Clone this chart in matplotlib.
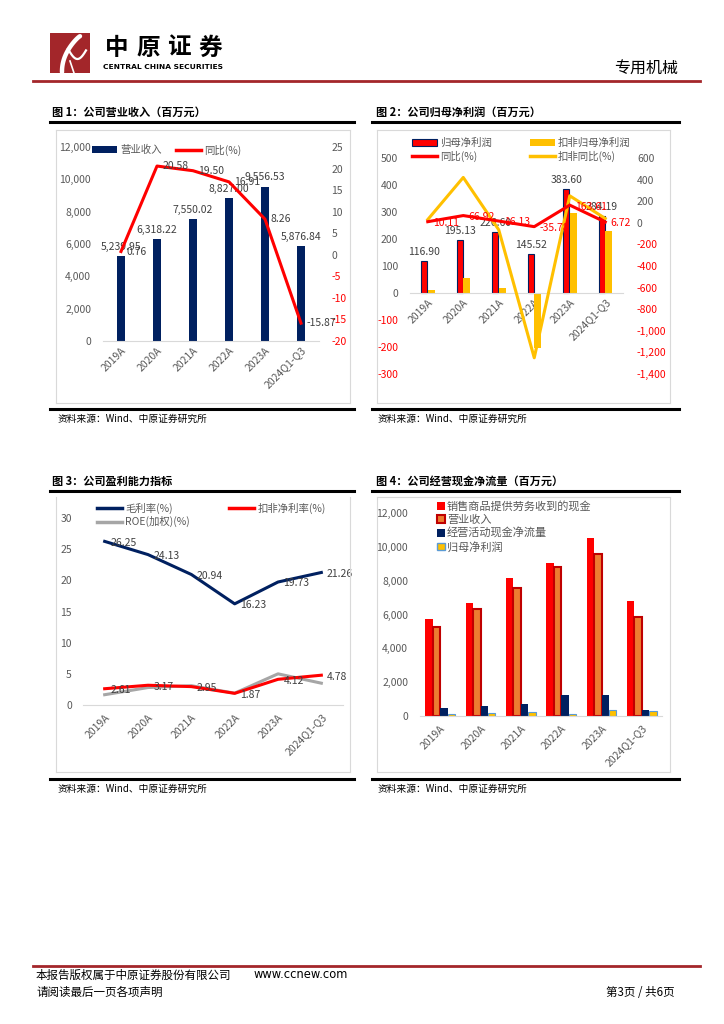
import numpy as np
import matplotlib
matplotlib.use('Agg')
import matplotlib.pyplot as plt
from matplotlib.patches import Rectangle, Patch
from matplotlib.lines import Line2D
from matplotlib.ticker import FuncFormatter

plt.rcParams['font.family'] = ['Noto Sans CJK SC', 'DejaVu Sans']
plt.rcParams['axes.unicode_minus'] = False

# ---- data (百万元 / %) ----
years = ['2019A', '2020A', '2021A', '2022A', '2023A', '2024Q1-Q3']
revenue = [5239.95, 6318.22, 7550.02, 8827.00, 9556.53, 5876.84]
revenue_yoy = [0.76, 20.58, 19.50, 16.91, 8.26, -15.87]
net_profit = [116.90, 195.13, 226.60, 145.52, 383.60, 284.19]
net_profit_yoy = [10.11, 66.92, 16.13, -35.78, 163.61, 6.72]
deducted_profit = [11, 57, 20, -204, 297, 230]
deducted_yoy = [30, 420, -65, -1250, 250, 40]
gross_margin = [26.25, 24.13, 20.94, 16.23, 19.73, 21.26]
deducted_margin = [2.61, 3.17, 2.95, 1.87, 4.12, 4.78]
roe = [1.65, 2.80, 3.10, 1.90, 5.00, 3.50]
cash_sales = [5740, 6700, 8140, 9060, 10500, 6800]
op_cashflow = [455, 590, 690, 1240, 1240, 355]

NAVY = '#002060'
RED = '#ff0000'
YELLOW = '#ffc000'
GREY = '#a6a6a6'
TXT = '#595959'
LAB = '#404040'
FS = 7.5

W, H = 724, 1024
fig = plt.figure(figsize=(W / 100, H / 100), dpi=100)


def fx(x):
    return x / W


def fy(y):
    return 1 - y / H


def rect(l, t, r, b):
    return [l / W, 1 - b / H, (r - l) / W, (b - t) / H]


def hline(x0, x1, y, color, lw):
    fig.add_artist(Line2D([fx(x0), fx(x1)], [fy(y), fy(y)], color=color, lw=lw,
                          transform=fig.transFigure))


def vline(x, y0, y1, color, lw):
    fig.add_artist(Line2D([fx(x), fx(x)], [fy(y0), fy(y1)], color=color, lw=lw,
                          transform=fig.transFigure))


def frame(l, t, r, b, top=True):
    c = '#d9d9d9'
    if top:
        hline(l, r, t, c, 0.8)
    hline(l, r, b, c, 0.8)
    vline(l, t, b, c, 0.8)
    vline(r, t, b, c, 0.8)


def style(ax, left_pad=8.5):
    for s in ['top', 'right', 'left']:
        ax.spines[s].set_visible(False)
    ax.spines['bottom'].set_color('#d9d9d9')
    ax.tick_params(length=0, colors=TXT, labelsize=FS)
    ax.tick_params(axis='y', pad=left_pad)


def color_neg(ax_labels, vals):
    for t, v in zip(ax_labels, vals):
        t.set_color(RED if v < 0 else TXT)


comma = FuncFormatter(lambda v, p: f'{v:,.0f}')
x = np.arange(len(years))

# ---- header ----
lg = fig.add_axes(rect(50, 33, 90, 73))
lg.set_xlim(0, 1)
lg.set_ylim(0, 1)
lg.axis('off')
lg.add_patch(Rectangle((0, 0), 1, 1, color='#a3262a'))
t = np.linspace(0, 1, 50)
lg.plot(0.75 - 0.45 * np.sin(t * 1.6), 0.92 - 0.9 * t ** 1.2, color='white', lw=3.2, solid_capstyle='round')
lg.plot(0.45 + 0.45 * t, 0.6 - 0.25 * np.sin(t * 3.0), color='white', lw=1.6)
lg.plot(0.5 + 0.1 * t, 0.3 - 0.3 * t, color='white', lw=1.2)
for i, ch in enumerate('中原证券'):
    fig.text(fx(117 + i * 31), fy(48), ch, fontsize=17, fontweight='bold', ha='center', va='center')
fig.text(fx(103), fy(67), 'CENTRAL CHINA SECURITIES', fontsize=5.4, fontweight='bold',
         family='DejaVu Sans', ha='left', va='center')
fig.text(fx(678), fy(69), '专用机械', fontsize=11.5, ha='right', va='center')
hline(33, 700, 81, '#a3262a', 2)

# ---- footer ----
hline(33, 700, 966, '#a3262a', 2)
fig.text(fx(36), fy(975), '本报告版权属于中原证券股份有限公司', fontsize=8.3, ha='left', va='center')
fig.text(fx(254), fy(975), 'www.ccnew.com', fontsize=8.3, ha='left', va='center', family='DejaVu Sans')
fig.text(fx(36), fy(992), '请阅读最后一页各项声明', fontsize=8.3, ha='left', va='center')
fig.text(fx(675), fy(992), '第3页 / 共6页', fontsize=8.3, ha='right', va='center')

# ---- titles / sources ----
titles = [(52, 112, '图 1：公司营业收入（百万元）', 50, 354),
          (376, 112, '图 2：公司归母净利润（百万元）', 372, 679),
          (52, 481, '图 3：公司盈利能力指标', 50, 354),
          (376, 481, '图 4：公司经营现金净流量（百万元）', 372, 679)]
for tx, ty, s, l0, l1 in titles:
    fig.text(fx(tx), fy(ty), s, fontsize=8, fontweight='bold', ha='left', va='center')
    hline(l0, l1, ty + 10, 'black', 2.2)
for l0, l1, tx, ly in [(50, 354, 58, 409), (372, 679, 378, 409), (50, 354, 58, 779), (372, 679, 378, 779)]:
    hline(l0, l1, ly, 'black', 2.2)
    fig.text(fx(tx), fy(ly + 10), '资料来源：Wind、中原证券研究所', fontsize=7, ha='left', va='center')

frame(56, 130, 350, 403)
frame(377, 130, 670, 403)
frame(56, 497, 350, 772, top=False)
frame(377, 497, 670, 772)

# ---- chart 1 ----
ax1 = fig.add_axes(rect(103, 147, 319, 341))
style(ax1)
ax1.bar(x, revenue, width=0.22, color=NAVY, zorder=2)
ax1.set_xlim(-0.5, 5.5)
ax1.set_ylim(0, 12000)
ax1.set_yticks(range(0, 12001, 2000))
ax1.yaxis.set_major_formatter(comma)
ax1.set_xticks(x)
ax1.set_xticklabels(years, rotation=45, ha='right', va='top', rotation_mode='anchor')
ax1.tick_params(axis='x', pad=3)
for xi, v in zip(x, revenue):
    ax1.annotate(f'{v:,.2f}', (xi, v), xytext=(0, 3), textcoords='offset points',
                 ha='center', va='bottom', fontsize=FS, color=LAB)
ax1r = ax1.twinx()
style(ax1r)
ax1r.spines['bottom'].set_visible(False)
ax1r.tick_params(axis='y', pad=9)
ax1r.set_ylim(-20, 25)
yt = list(range(-20, 26, 5))
ax1r.set_yticks(yt)
color_neg(ax1r.get_yticklabels(), yt)
ax1r.plot(x, revenue_yoy, color=RED, lw=2.2)
for xi, v in zip(x, revenue_yoy):
    ax1r.annotate(f'{v:.2f}', (xi, v), xytext=(4, 0), textcoords='offset points',
                  ha='left', va='center', fontsize=FS, color=LAB)
fig.legend([Patch(fc=NAVY), Line2D([], [], color=RED, lw=2.5)], ['营业收入', '同比(%)'],
           loc='center left', bbox_to_anchor=(fx(92), fy(150)), ncol=2, frameon=False,
           fontsize=FS, labelcolor=TXT, handlelength=2.4, handleheight=0.6, handletextpad=0.3,
           columnspacing=1.4, borderpad=0, borderaxespad=0)

# ---- chart 2 ----
ax2 = fig.add_axes(rect(410, 158, 623, 374))
style(ax2)
ax2.spines['bottom'].set_position(('data', 0))
ax2.bar(x - 0.1, net_profit, width=0.18, color=RED, edgecolor=NAVY, lw=0.8, zorder=2)
ax2.bar(x + 0.1, deducted_profit, width=0.19, color=YELLOW, zorder=2)
ax2.set_xlim(-0.5, 5.5)
ax2.set_ylim(-300, 500)
yt = list(range(-300, 501, 100))
ax2.set_yticks(yt)
color_neg(ax2.get_yticklabels(), yt)
ax2.set_xticks(x)
ax2.set_xticklabels(years, rotation=45, ha='right', va='top', rotation_mode='anchor')
ax2.tick_params(axis='x', pad=3)
for xi, v in zip(x, net_profit):
    ax2.annotate(f'{v:.2f}', (xi - 0.1, v), xytext=(0, 3), textcoords='offset points',
                 ha='center', va='bottom', fontsize=FS, color=LAB)
ax2r = ax2.twinx()
style(ax2r)
ax2r.spines['bottom'].set_visible(False)
ax2r.tick_params(axis='y', pad=10)
ax2r.set_ylim(-1400, 600)
yt = list(range(-1400, 601, 200))
ax2r.set_yticks(yt)
ax2r.yaxis.set_major_formatter(comma)
color_neg(ax2r.get_yticklabels(), yt)
ax2r.plot(x, deducted_yoy, color=YELLOW, lw=2.2)
ax2r.plot(x, net_profit_yoy, color=RED, lw=2.2)
for xi, v in zip(x, net_profit_yoy):
    ax2r.annotate(f'{v:.2f}', (xi, v), xytext=(4, -1), textcoords='offset points',
                  ha='left', va='center', fontsize=FS, color=RED)
fig.legend([Patch(fc=RED, ec=NAVY, lw=0.8), Line2D([], [], color=RED, lw=2.5),
            Patch(fc=YELLOW), Line2D([], [], color=YELLOW, lw=2.5)],
           ['归母净利润', '同比(%)', '扣非归母净利润', '扣非同比(%)'],
           loc='upper left', bbox_to_anchor=(fx(412), fy(138)), ncol=2, frameon=False,
           fontsize=FS, labelcolor=TXT, handlelength=2.4, handleheight=0.6, handletextpad=0.3,
           columnspacing=3.6, labelspacing=0.2, borderpad=0, borderaxespad=0)

# ---- chart 3 ----
ax3 = fig.add_axes(rect(83, 518, 343, 705))
style(ax3, left_pad=8)
ax3.plot(x, gross_margin, color=NAVY, lw=2.2)
ax3.plot(x, roe, color=GREY, lw=2.2)
ax3.plot(x, deducted_margin, color=RED, lw=2.2)
ax3.set_xlim(-0.5, 5.5)
ax3.set_ylim(0, 30)
ax3.set_yticks(range(0, 31, 5))
ax3.set_xticks(x)
ax3.set_xticklabels(years, rotation=45, ha='right', va='top', rotation_mode='anchor')
ax3.tick_params(axis='x', pad=5)
for xi, v in zip(x, gross_margin):
    ax3.annotate(f'{v:.2f}', (xi, v), xytext=(4, -1), textcoords='offset points',
                 ha='left', va='center', fontsize=FS, color=LAB)
for xi, v in zip(x, deducted_margin):
    ax3.annotate(f'{v:.2f}', (xi, v), xytext=(4, -1), textcoords='offset points',
                 ha='left', va='center', fontsize=FS, color=LAB)
fig.legend([Line2D([], [], color=NAVY, lw=2.5), Line2D([], [], color=GREY, lw=2.5),
            Line2D([], [], color=RED, lw=2.5)],
           ['毛利率(%)', 'ROE(加权)(%)', '扣非净利率(%)'],
           loc='upper left', bbox_to_anchor=(fx(97), fy(503)), ncol=2, frameon=False,
           fontsize=FS, labelcolor=TXT, handlelength=2.4, handletextpad=0.3,
           columnspacing=3.8, labelspacing=0.2, borderpad=0, borderaxespad=0)

# ---- chart 4 ----
ax4 = fig.add_axes(rect(420, 513, 662, 716))
style(ax4)
bw = 0.185
ax4.bar(x - 1.5 * bw, cash_sales, width=bw, color=RED, zorder=2)
ax4.bar(x - 0.5 * bw, revenue, width=bw, color='#ed7d31', edgecolor='#c00000', lw=1.5, zorder=2)
ax4.bar(x + 0.5 * bw, op_cashflow, width=bw, color=NAVY, zorder=2)
ax4.bar(x + 1.5 * bw, net_profit, width=bw, color=YELLOW, edgecolor='#5b9bd5', lw=0.8, zorder=2)
ax4.set_xlim(-0.5, 5.5)
ax4.set_ylim(0, 12000)
ax4.set_yticks(range(0, 12001, 2000))
ax4.yaxis.set_major_formatter(comma)
ax4.set_xticks(x)
ax4.set_xticklabels(years, rotation=45, ha='right', va='top', rotation_mode='anchor')
ax4.tick_params(axis='x', pad=5)
fig.legend([Patch(fc=RED), Patch(fc='#ed7d31', ec='#c00000', lw=1.5), Patch(fc=NAVY),
            Patch(fc=YELLOW, ec='#5b9bd5', lw=1)],
           ['销售商品提供劳务收到的现金', '营业收入', '经营活动现金净流量', '归母净利润'],
           loc='upper left', bbox_to_anchor=(fx(437), fy(501)), ncol=1, frameon=False,
           fontsize=FS + 0.5, labelcolor=TXT, handlelength=0.7, handleheight=0.7,
           handletextpad=0.2, labelspacing=0.25, borderpad=0, borderaxespad=0)

fig.savefig('out.png', dpi=100)
